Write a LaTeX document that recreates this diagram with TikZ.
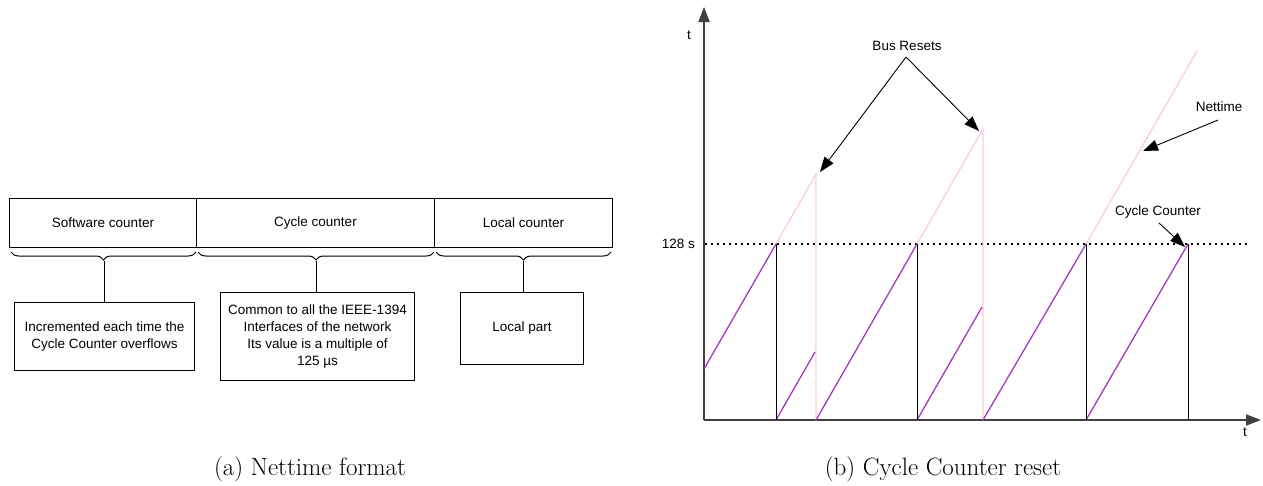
\documentclass[tikz,border=0pt]{standalone}
\usepackage{fontspec}
\setmainfont{Latin Modern Roman}
\newfontfamily\lab{Liberation Sans}
\usetikzlibrary{decorations.pathreplacing,arrows.meta}
\definecolor{netpink}{RGB}{255,200,210}
\definecolor{ccpurple}{RGB}{160,60,190}
\begin{document}
\begin{tikzpicture}[x=1pt,y=-1pt,
  lbl/.style={font=\lab\fontsize{13.5}{17}\selectfont, inner sep=0pt},
  cell/.style={draw, line width=1pt, minimum height=49pt, inner sep=0pt, font=\lab\fontsize{13.5}{17}\selectfont},
  infobox/.style={draw, line width=1pt, inner sep=0pt, align=center, font=\lab\fontsize{13.5}{17}\selectfont},
  brc/.style={decorate, decoration={brace, amplitude=8pt, mirror}, line width=1pt},
  stem/.style={line width=1pt},
  bigarrow/.style={-{Triangle[length=15pt,width=11pt]}, line width=0.9pt},
  axis/.style={-{Triangle[length=15pt,width=11pt]}, line width=1.8pt, draw=black!75},
  nett/.style={draw=netpink, line width=1.2pt},
  cc/.style={draw=ccpurple, line width=1.3pt},
  reset/.style={draw=black, line width=1pt},
  captext/.style={font=\fontsize{25}{30}\selectfont, inner sep=0pt}
]
\useasboundingbox (0,0) rectangle (1263,485);

% ---------- (a) Nettime format ----------
\node[cell, minimum width=187pt, anchor=north west] (sw) at (9,198) {Software counter};
\node[cell, minimum width=238pt, anchor=north west] (cyc) at (196,198) {Cycle counter};
\node[cell, minimum width=178pt, anchor=north west] (loc) at (434,198) {Local counter};

\draw[brc] (11,252) -- (196,252);
\draw[brc] (198,252) -- (434,252);
\draw[brc] (436,252) -- (611,252);
\coordinate (t1) at (104,261);
\coordinate (t2) at (316,261);
\coordinate (t3) at (523,261);

\node[infobox, minimum width=180pt, minimum height=68pt, anchor=north west] (ib1) at (14,302)
  {Incremented each time the\\Cycle Counter overflows};
\node[infobox, minimum width=194pt, minimum height=88pt, anchor=north west] (ib2) at (220,292)
  {Common to all the IEEE-1394\\Interfaces of the network\\Its value is a multiple of\\125 µs};
\node[infobox, minimum width=123pt, minimum height=72pt, anchor=north west] (ib3) at (460,292)
  {Local part};

\draw[stem] (t1) -- (t1 |- ib1.north);
\draw[stem] (t2) -- (t2 |- ib2.north);
\draw[stem] (t3) -- (t3 |- ib3.north);

\node[captext] (capa) at (310,469) {(a) Nettime format};

% ---------- (b) Cycle Counter reset ----------
\coordinate (O) at (704,420);
\coordinate (ytop) at (704,7);
\coordinate (xend) at (1261,420);
\draw[axis] (O) -- (ytop);
\draw[axis] (O) -- (xend);
\node[lbl] (ty) at (689,35) {t};
\node[lbl] (tx) at (1245,432) {t};

\coordinate (d0) at (705,244);
\coordinate (d1) at (1248,244);
\draw[line width=1.6pt, dash pattern=on 1.6pt off 4.4pt] (d0) -- (d1);
\node[lbl, anchor=east] (l128) at (695,244) {128 s};

% Nettime (pink)
\draw[nett] (776,244) -- (816,174) -- (816,420);
\draw[nett] (917,244) -- (983,129) -- (983,420);
\draw[nett] (1086,244) -- (1197,51);

% Cycle counter (purple)
\draw[cc] (704,369) -- (776,244);
\draw[cc] (776,420) -- (815,352);
\draw[cc] (816,420) -- (917,244);
\draw[cc] (917,420) -- (982,307);
\draw[cc] (983,420) -- (1086,244);
\draw[cc] (1086,420) -- (1188,244);

% overflow verticals
\draw[reset] (776,244) -- (776,420);
\draw[reset] (917,244) -- (917,420);
\draw[reset] (1086,244) -- (1086,420);
\draw[reset] (1188,244) -- (1188,420);

% annotations
\node[lbl] (bus) at (907,46) {Bus Resets};
\coordinate (bs) at (906,57);
\coordinate (bt1) at (820,172);
\coordinate (bt2) at (979,131);
\draw[bigarrow] (bs) -- (bt1);
\draw[bigarrow] (bs) -- (bt2);

\node[lbl] (net) at (1219,107) {Nettime};
\coordinate (ns) at (1218,120);
\coordinate (nt) at (1143,151);
\draw[bigarrow] (ns) -- (nt);

\node[lbl] (ccl) at (1158,212) {Cycle Counter};
\coordinate (cs) at (1159,223);
\coordinate (ct) at (1185,247);
\draw[bigarrow] (cs) -- (ct);

\node[captext] (capb) at (943,469) {(b) Cycle Counter reset};
\end{tikzpicture}
\end{document}
